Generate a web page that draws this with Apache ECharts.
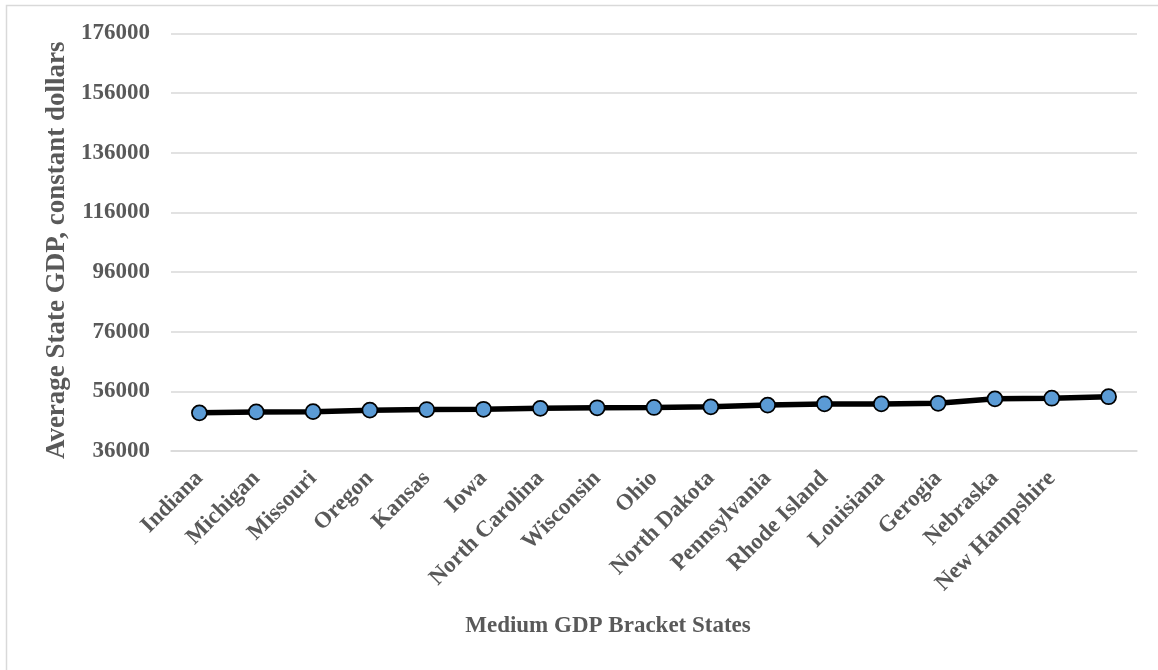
<!DOCTYPE html>
<html>
<head>
<meta charset="utf-8">
<script src="https://cdn.jsdelivr.net/npm/echarts@6/dist/echarts.min.js"></script>
<style>
  html, body { margin: 0; padding: 0; background: #ffffff; }
  #chart { width: 1158px; height: 670px; }
</style>
</head>
<body>
<div id="chart"></div>
<script>
// Medium GDP bracket states (last slot is unlabelled)
const states = [
  'Indiana', 'Michigan', 'Missouri', 'Oregon', 'Kansas', 'Iowa',
  'North Carolina', 'Wisconsin', 'Ohio', 'North Dakota', 'Pennsylvania',
  'Rhode Island', 'Louisiana', 'Gerogia', 'Nebraska', 'New Hampshire', ''
];
// Average state GDP, constant dollars
const avgGdp = [
  48800, 49100, 49200, 49700, 49900, 50000, 50300, 50500, 50600,
  50800, 51400, 51800, 51800, 52000, 53500, 53700, 54200
];
// Value-axis tick labels
const yTicks = [36000, 56000, 76000, 96000, 116000, 136000, 156000, 176000];

const textColor = '#595959';
const fontFamily = '"Liberation Serif", "Times New Roman", serif';

const chart = echarts.init(document.getElementById('chart'), null, { renderer: 'canvas' });
chart.setOption({
  backgroundColor: '#ffffff',
  animation: false,
  graphic: [{
    type: 'rect',
    shape: { x: 6.5, y: 5.5, width: 1300, height: 800 },
    style: { fill: 'none', stroke: '#d9d9d9', lineWidth: 1.5 },
    silent: true
  }],
  grid: { left: 171, right: 21, top: 33.5, bottom: 219 },
  xAxis: {
    type: 'category',
    data: states,
    boundaryGap: true,
    name: 'Medium GDP Bracket States',
    nameLocation: 'middle',
    nameGap: 164,
    nameTextStyle: {
      color: textColor, fontFamily, fontWeight: 'bold', fontSize: 23,
      padding: [0, 92, 0, 0]
    },
    axisLine: { show: true, lineStyle: { color: '#d9d9d9', width: 1.5 } },
    axisTick: { show: false },
    axisLabel: {
      interval: 0,
      rotate: 45,
      margin: 24,
      color: textColor,
      fontFamily,
      fontWeight: 'bold',
      fontSize: 23
    },
    splitLine: { show: false }
  },
  yAxis: {
    type: 'value',
    min: 36000,
    max: 176000,
    name: 'Average State GDP, constant dollars',
    nameLocation: 'middle',
    nameRotate: 90,
    nameGap: 100,
    nameTextStyle: {
      color: textColor, fontFamily, fontWeight: 'bold', fontSize: 27,
      padding: [0, 16, 0, 0]
    },
    axisLine: { show: false },
    axisTick: { show: false, customValues: yTicks },
    axisLabel: {
      customValues: yTicks,
      formatter: (v) => String(v),
      margin: 21,
      color: textColor,
      fontFamily,
      fontWeight: 'bold',
      fontSize: 23
    },
    splitLine: { show: true, lineStyle: { color: '#d9d9d9', width: 1.5 } }
  },
  series: [{
    type: 'line',
    data: avgGdp,
    symbol: 'circle',
    symbolSize: 15,
    lineStyle: { color: '#000000', width: 5.5 },
    itemStyle: { color: '#5b9bd5', borderColor: '#000000', borderWidth: 1.75 },
    z: 3
  }]
});
</script>
</body>
</html>
